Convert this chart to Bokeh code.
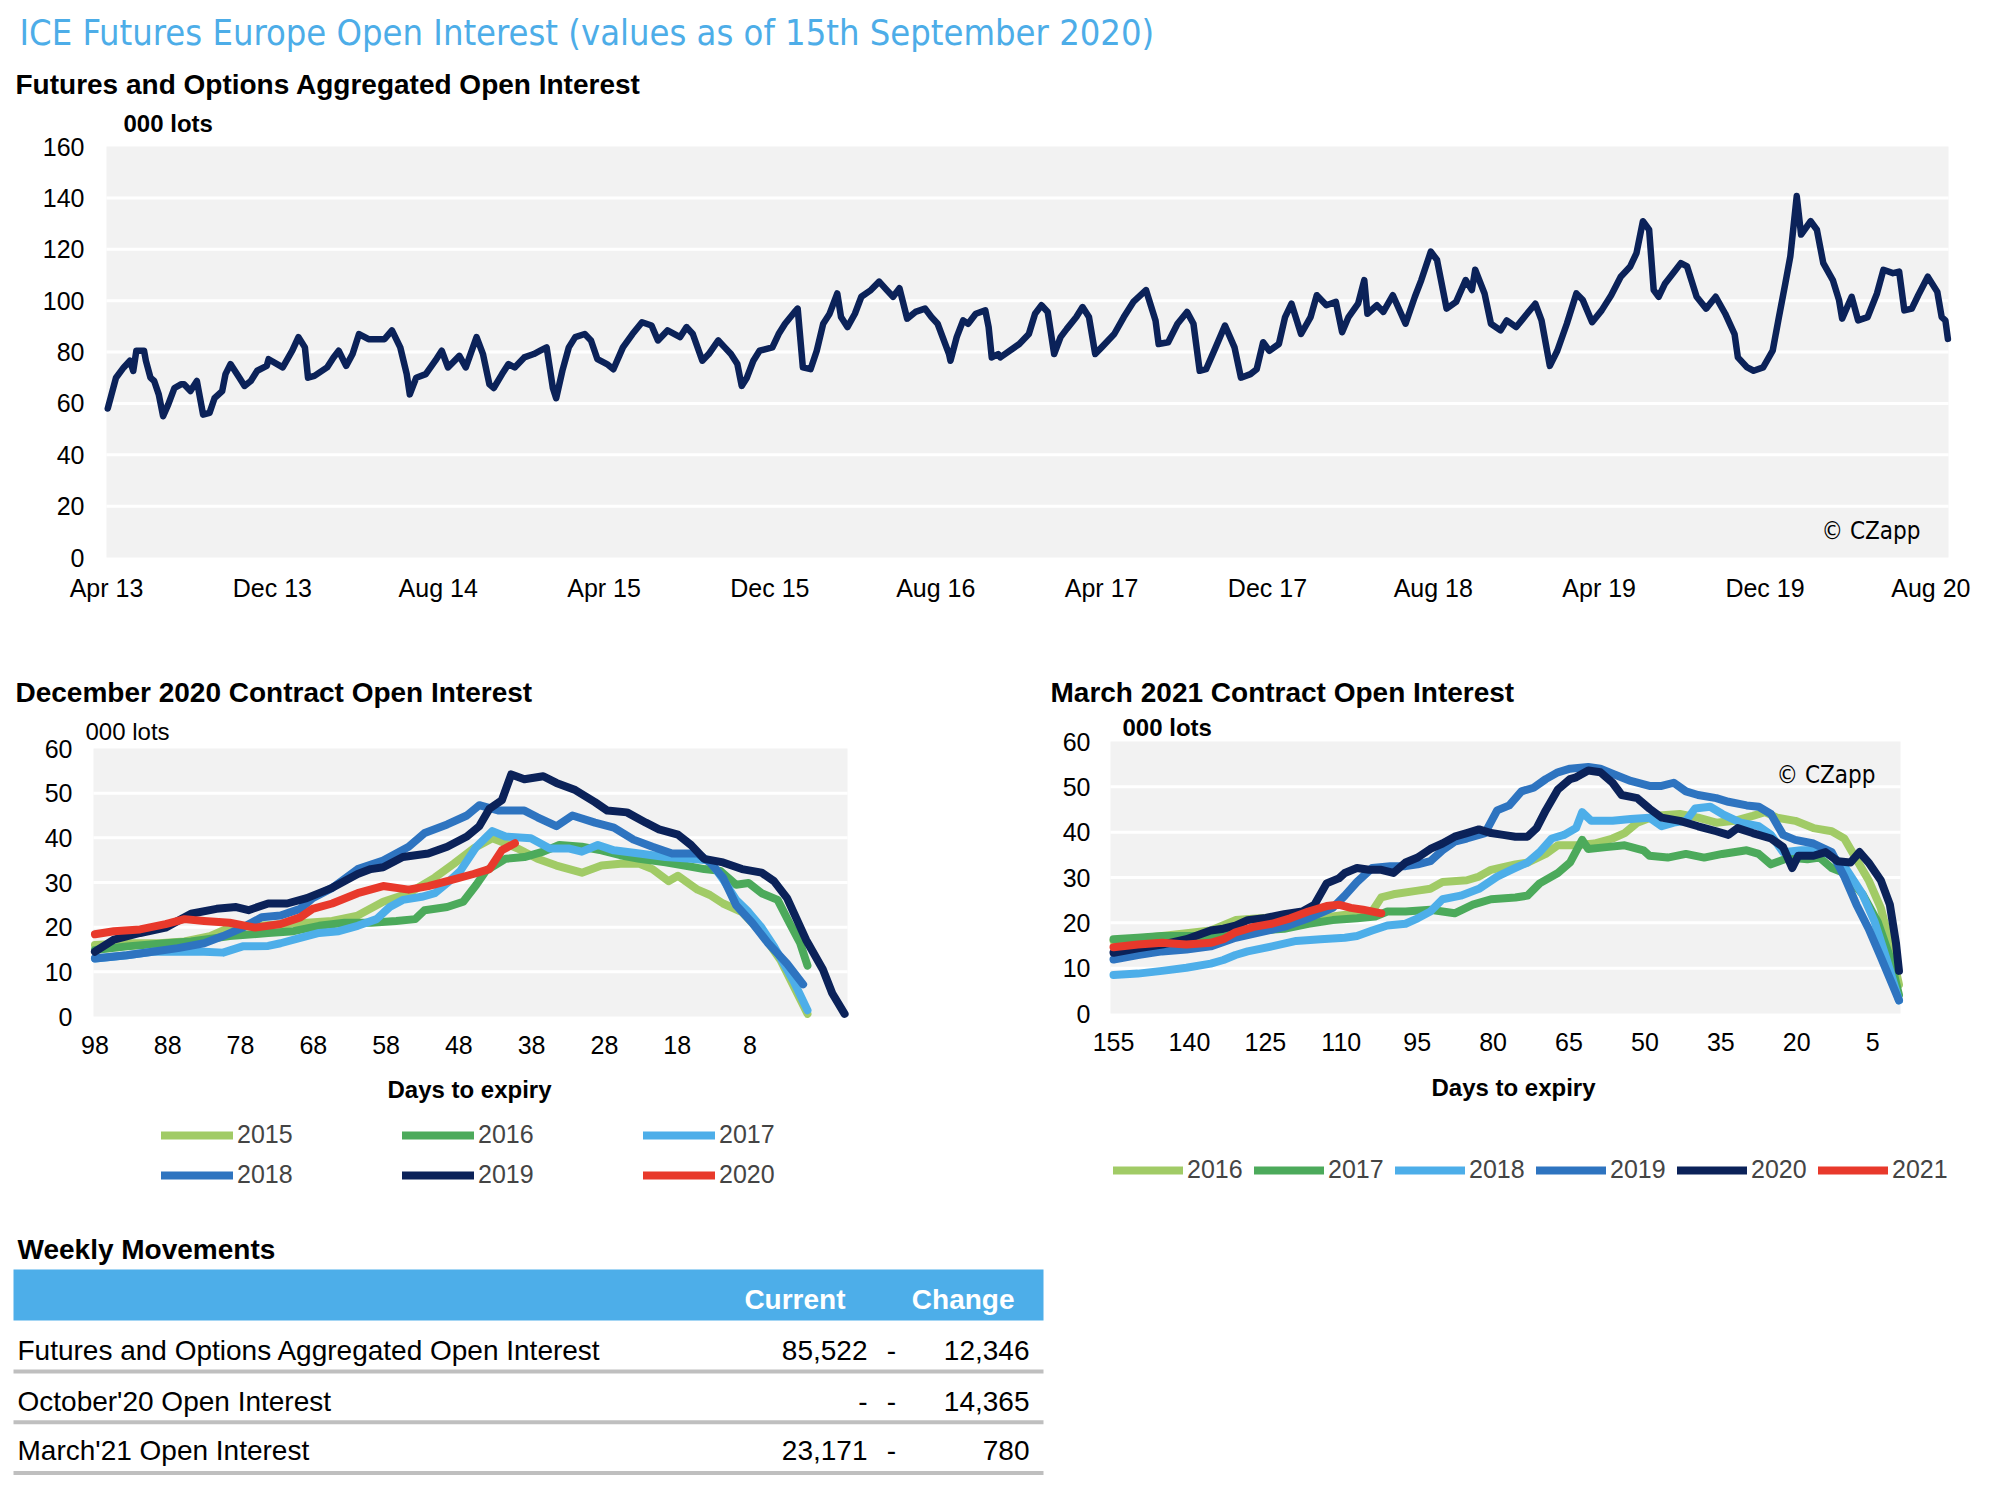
from bokeh.plotting import figure
from bokeh.models import Range1d, FixedTicker, Label, Legend, LegendItem, ColumnDataSource, LinearAxis
from bokeh.layouts import column, row
from bokeh.embed import file_html
from bokeh.resources import INLINE
from bokeh.core.properties import value

# ------------------------------------------------------------------ data
# Aggregated open interest: months after 1 April 2013, value in 000 lots
agg_month = [0.06, 0.46, 0.83, 1.13, 1.29, 1.44, 1.81, 1.90, 2.12, 2.30, 2.52, 2.73, 2.98, 3.28, 3.59, 3.74,
             4.05, 4.36, 4.66, 4.97, 5.21, 5.58, 5.74, 5.98, 6.41, 6.66, 6.96, 7.27, 7.73, 7.82, 8.50, 8.96,
             9.26, 9.57, 9.72, 10.03, 10.64, 10.95, 11.20, 11.56, 11.87, 12.18, 12.64, 13.41, 13.77, 14.17,
             14.48, 14.63, 14.94, 15.40, 15.86, 16.17, 16.47, 17.02, 17.33, 17.85, 18.16, 18.47, 18.68, 19.08,
             19.39, 19.69, 20.15, 20.61, 20.92, 21.23, 21.53, 21.69, 21.99, 22.30, 22.61, 23.07, 23.37, 23.68,
             24.14, 24.45, 24.91, 25.37, 25.83, 26.29, 26.60, 27.06, 27.67, 27.98, 28.28, 28.74, 29.05, 29.51,
             29.82, 30.12, 30.43, 30.64, 30.89, 31.20, 31.50, 32.12, 32.42, 32.73, 33.19, 33.34, 33.59, 33.96,
             34.26, 34.57, 34.88, 35.25, 35.43, 35.74, 36.10, 36.41, 36.87, 37.27, 37.64, 37.94, 38.25, 38.62,
             39.02, 39.48, 39.79, 40.09, 40.64, 40.71, 41.01, 41.32, 41.56, 41.93, 42.39, 42.55, 42.70, 43.01,
             43.11, 44.03, 44.49, 44.79, 45.10, 45.40, 45.71, 46.02, 46.32, 46.78, 47.08, 47.39, 47.69, 48.00,
             48.61, 49.07, 49.53, 50.14, 50.60, 50.75, 51.21, 51.66, 52.12, 52.43, 52.73, 53.04, 53.50, 53.95,
             54.41, 54.72, 55.18, 55.48, 55.79, 56.09, 56.55, 56.85, 57.16, 57.62, 58.08, 58.38, 58.84, 59.30,
             59.60, 59.91, 60.37, 60.67, 60.82, 61.28, 61.59, 62.05, 62.66, 63.11, 63.42, 63.88, 64.18, 64.64,
             65.10, 65.56, 65.86, 66.02, 66.47, 66.78, 67.24, 67.54, 68.00, 68.46, 68.92, 69.22, 69.62, 69.98,
             70.44, 70.90, 71.21, 71.66, 72.12, 72.58, 73.04, 73.50, 73.80, 74.11, 74.41, 74.63, 74.87, 75.18,
             75.63, 75.94, 76.24, 76.70, 77.16, 77.62, 78.08, 78.53, 78.69, 79.14, 79.45, 79.91, 80.37, 80.67,
             80.98, 81.22, 81.53, 81.74, 82.20, 82.50, 82.81, 83.27, 83.57, 83.72, 84.18, 84.49, 84.95, 85.40,
             85.71, 86.17, 86.47, 86.72, 87.08, 87.39, 87.85, 88.31, 88.52, 88.70, 88.82]
agg_oi = [58.0, 70.0, 74.0, 76.6, 72.6, 80.5, 80.5, 76.6, 70.0, 68.7, 63.5, 55.0, 59.6, 66.0, 67.4, 67.4,
          64.8, 68.7, 55.6, 56.3, 62.0, 64.8, 71.4, 75.3, 70.0, 66.8, 68.7, 72.7, 74.6, 77.2, 74.0, 80.5,
          85.8, 81.8, 70.0, 70.7, 74.0, 77.9, 80.5, 74.6, 79.2, 87.0, 85.0, 85.0, 88.4, 81.8,
          71.4, 63.5, 70.0, 71.4, 76.6, 80.5, 74.0, 78.5, 74.0, 85.8, 79.2, 67.4, 66.0, 71.4,
          75.3, 74.0, 77.9, 79.2, 80.5, 81.8, 66.0, 62.0, 72.7, 81.8, 85.8, 87.0, 84.5, 77.2,
          75.3, 73.3, 81.8, 87.0, 91.6, 90.3, 84.5, 88.4, 85.8, 89.7, 87.0, 76.6, 79.2, 84.5,
          81.8, 79.2, 75.3, 66.8, 70.0, 76.6, 80.5, 81.8, 87.0, 91.0, 95.6, 96.9, 74.0, 73.3,
          80.5, 91.0, 94.9, 102.8, 93.6, 89.7, 94.9, 101.5, 104.1, 107.4, 104.1, 101.5, 104.8, 93.0,
          95.6, 96.9, 93.6, 91.0, 79.2, 76.6, 85.8, 92.3, 91.0, 94.9, 96.2, 89.7, 77.9, 79.2,
          77.9, 83.1, 87.0, 94.9, 98.2, 95.6, 79.2, 85.8, 89.0, 93.6, 97.5, 93.6, 79.2, 81.8,
          87.0, 93.6, 99.5, 104.1, 92.3, 83.1, 83.8, 91.0, 95.6, 91.0, 72.7, 73.3, 81.8, 90.3,
          81.8, 70.0, 71.4, 73.3, 83.8, 80.5, 83.1, 93.6, 98.8, 87.0, 93.6, 102.1, 98.2, 99.5,
          87.7, 93.6, 98.8, 108.0, 94.9, 98.2, 95.6, 102.1, 91.0, 101.5, 108.0, 119.1, 115.8, 96.9,
          99.5, 108.0, 104.1, 112.0, 102.8, 91.0, 88.4, 92.3, 89.7, 94.3, 98.8, 92.3, 74.6, 80.5,
          91.0, 102.8, 100.2, 91.6, 96.2, 102.1, 109.3, 113.3, 118.5, 130.9, 127.6, 104.1, 101.5, 106.7,
          111.3, 114.6, 113.3, 101.5, 96.9, 101.5, 94.9, 87.0, 77.9, 74.0, 72.7, 74.0, 80.5, 93.6,
          106.7, 117.2, 140.7, 125.7, 130.9, 127.6, 114.6, 108.0, 100.2, 93.0, 101.5, 92.3, 93.6, 102.8,
          112.0, 110.7, 111.3, 96.2, 96.9, 102.1, 109.3, 103.4, 93.6, 92.3, 85.1]
agg_tick_months = [0, 8, 16, 24, 32, 40, 48, 56, 64, 72, 80, 88]
agg_tick_labels = ["Apr 13", "Dec 13", "Aug 14", "Apr 15", "Dec 15", "Aug 16",
                   "Apr 17", "Dec 17", "Aug 18", "Apr 19", "Dec 19", "Aug 20"]

# December contract: days to expiry, open interest (000 lots)
dec_days_2015 = [98, 93.6, 89.2, 85.7, 82.2, 79.5, 68.9, 65.4, 61.9, 58.4, 54.9, 51.3, 48.7, 46.0, 43.4, 41.6,
                 39.9, 37.2, 34.6, 31.1, 28.4, 25.8, 23.2, 21.4, 19.2, 17.9, 15.2, 13.5, 11.7, 9.1, 6.4, 3.8, 0.1]
dec_oi_2015 = [16.0, 16.4, 16.4, 16.8, 18.0, 19.9, 21.0, 21.4, 22.6, 25.7, 27.6, 31.1, 34.2, 37.6, 39.9, 38.8,
               37.6, 35.3, 33.8, 32.2, 33.8, 34.2, 34.2, 33.0, 30.3, 31.5, 28.4, 27.2, 25.3, 23.4, 18.7, 12.6, 0.6]
dec_days_2016 = [98, 93.6, 88.3, 84.8, 79.5, 74.2, 70.7, 67.2, 63.7, 60.1, 56.6, 54.0, 52.7, 49.6, 47.4, 45.6,
                 44.3, 41.6, 39.0, 36.4, 34.2, 31.1, 28.4, 25.8, 23.2, 19.6, 17.0, 14.3, 12.1, 9.9, 8.2, 6.4,
                 4.2, 2.5, 1.1, 0.1]
dec_oi_2016 = [14.9, 15.7, 16.4, 16.8, 18.0, 18.7, 19.1, 20.3, 21.0, 21.0, 21.4, 21.8, 23.8, 24.5, 25.7, 29.5,
               32.6, 35.3, 35.7, 36.9, 38.4, 38.0, 37.2, 36.1, 35.3, 34.5, 33.8, 33.0, 32.6, 29.5, 29.9, 27.6,
               26.1, 20.7, 16.4, 11.4]
dec_days_2017 = [98, 93.6, 90.1, 86.6, 83.0, 80.4, 77.7, 74.2, 72.5, 69.8, 67.2, 64.5, 61.9, 59.3, 57.5, 55.7,
                 53.1, 51.3, 49.6, 47.8, 45.6, 43.4, 41.6, 38.1, 35.5, 32.8, 31.1, 28.9, 26.7, 23.2, 19.6, 16.1,
                 13.5, 11.7, 9.9, 8.2, 6.4, 4.7, 2.0, 0.1]
dec_oi_2017 = [13.0, 13.7, 14.5, 14.5, 14.5, 14.3, 15.7, 15.8, 16.4, 17.6, 18.7, 19.1, 20.3, 21.8, 24.5, 26.1,
               26.8, 27.6, 29.9, 32.6, 38.0, 41.5, 40.3, 39.9, 37.6, 37.6, 36.9, 38.4, 37.2, 36.5, 35.7, 35.3,
               34.9, 30.7, 26.1, 23.4, 19.9, 15.7, 7.9, 1.4]
dec_days_2018 = [98, 93.6, 90.1, 86.6, 83.0, 80.4, 77.7, 75.1, 72.5, 69.8, 68.1, 65.4, 61.9, 58.4, 54.9, 52.7,
                 49.6, 46.9, 45.2, 42.5, 39.0, 37.2, 34.6, 32.4, 29.3, 26.7, 24.0, 21.4, 18.7, 15.2, 13.5, 11.7,
                 9.9, 7.7, 5.5, 2.9, 0.7]
dec_oi_2018 = [13.0, 13.7, 14.5, 15.3, 16.4, 18.0, 19.9, 22.2, 22.6, 24.1, 26.5, 28.8, 33.0, 34.9, 38.0, 41.1,
               43.0, 45.0, 47.3, 46.1, 46.1, 44.6, 42.6, 45.0, 43.4, 42.3, 39.6, 38.0, 36.5, 36.5, 34.5, 31.1,
               24.9, 21.0, 16.4, 11.8, 7.2]
dec_days_2019 = [98, 95.4, 91.8, 88.3, 84.8, 81.3, 78.6, 76.9, 74.2, 71.6, 68.9, 65.4, 61.9, 60.1, 58.4, 55.7,
                 52.2, 49.6, 46.9, 45.2, 43.8, 42.1, 40.8, 39.0, 36.4, 34.6, 32.0, 29.3, 27.6, 24.9, 22.3, 20.5,
                 17.9, 16.1, 14.3, 11.7, 9.1, 6.4, 4.7, 2.9, 0.3, -2.0, -3.3, -5.0]
dec_oi_2019 = [14.5, 17.2, 18.7, 19.9, 23.0, 24.1, 24.5, 23.8, 25.3, 25.3, 26.5, 28.8, 31.9, 33.0, 33.4, 35.7,
               36.5, 38.0, 40.3, 42.6, 46.5, 48.4, 54.2, 53.1, 53.8, 52.3, 50.7, 48.0, 46.1, 45.7, 43.4, 41.9,
               40.7, 38.4, 35.3, 34.5, 33.0, 32.2, 30.3, 26.5, 17.2, 10.6, 5.2, 0.6]
dec_days_2020 = [98, 95.4, 91.8, 88.3, 85.7, 83.0, 79.5, 76.0, 72.5, 69.8, 68.1, 65.4, 61.9, 58.4, 54.9, 52.2,
                 49.6, 46.0, 43.8, 42.1, 40.3]
dec_oi_2020 = [18.4, 19.1, 19.5, 20.7, 21.8, 21.4, 21.0, 19.9, 20.7, 22.2, 24.1, 25.3, 27.6, 29.2, 28.4, 29.2,
               30.3, 31.9, 33.0, 37.2, 38.8]
dec_ticks = [98, 88, 78, 68, 58, 48, 38, 28, 18, 8]

# March contract: days to expiry, open interest (000 lots)
mar_days_2016 = [155, 150.2, 145.4, 140.6, 135.8, 130.9, 126.1, 121.3, 116.5, 111.7, 106.9, 103.9, 102.1, 99.7,
                 94.9, 92.4, 90.0, 85.2, 82.8, 80.4, 75.6, 73.2, 69.6, 67.2, 63.6, 60.0, 56.4, 54.0, 51.5, 47.9,
                 43.1, 39.5, 35.9, 32.3, 28.7, 26.3, 23.9, 20.3, 16.7, 13.1, 10.6, 8.2, 5.8, 3.4, 1.6, -0.2]
mar_oi_2016 = [16.0, 16.5, 17.1, 17.7, 18.3, 20.6, 21.0, 21.4, 21.7, 21.4, 22.1, 22.5, 25.6, 26.3,
               27.1, 27.5, 29.0, 29.4, 30.2, 31.7, 32.9, 33.3, 35.2, 37.1, 37.1, 37.5, 38.6, 39.8, 42.1, 43.6,
               44.0, 43.2, 42.1, 42.5, 43.6, 44.4, 43.2, 42.5, 40.9, 40.2, 38.6, 34.0, 29.4, 23.3, 15.6, 6.4]
mar_days_2017 = [155, 150.2, 145.4, 140.6, 135.8, 130.9, 126.1, 121.3, 116.5, 111.7, 106.9, 103.3, 100.9, 97.3,
                 92.4, 87.6, 84.0, 80.4, 75.6, 73.2, 70.8, 67.2, 64.8, 62.4, 61.2, 57.6, 54.0, 50.3, 49.1, 45.5,
                 41.9, 38.3, 34.7, 29.9, 27.5, 25.1, 21.5, 17.9, 15.5, 13.1, 10.6, 7.0, 4.0, 1.6, -0.2]
mar_oi_2017 = [16.4, 16.7, 17.1, 17.1, 17.1, 17.5, 18.3, 18.7, 19.8, 20.6, 21.0, 21.4, 22.5, 22.5,
               22.9, 22.1, 24.0, 25.2, 25.6, 26.0, 28.7, 31.0, 33.3, 38.3, 36.3, 36.7, 37.1, 36.0, 34.8, 34.4,
               35.2, 34.4, 35.2, 36.0, 35.2, 32.9, 34.4, 34.0, 34.4, 32.1, 31.0, 26.3, 20.2, 12.5, 4.1]
mar_days_2018 = [155, 150.2, 145.4, 140.6, 135.8, 133.3, 130.9, 128.5, 123.7, 118.9, 114.1, 109.3, 106.9, 103.9,
                 100.9, 97.3, 94.9, 92.4, 90.0, 86.4, 82.8, 79.2, 75.6, 73.2, 70.8, 68.4, 66.0, 63.6, 62.4, 60.6,
                 56.4, 52.8, 49.1, 46.7, 44.3, 41.9, 40.1, 37.1, 34.7, 31.1, 27.5, 25.1, 22.7, 19.1, 15.5, 13.1,
                 10.6, 7.0, 4.6, 2.2, -0.2]
mar_oi_2018 = [8.5, 8.8, 9.4, 10.1, 11.0, 11.8, 12.9, 13.7, 14.8, 16.0, 16.4, 16.7, 17.1, 18.3,
               19.4, 19.8, 21.0, 22.5, 25.2, 26.0, 27.5, 30.2, 32.1, 33.3, 35.6, 38.6, 39.4, 40.9, 44.4, 42.5,
               42.5, 42.9, 43.2, 41.3, 42.1, 42.5, 45.2, 45.6, 44.0, 42.1, 41.3, 39.4, 35.6, 36.0, 36.0, 34.8,
               32.5, 26.3, 20.2, 11.8, 2.9]
mar_days_2019 = [155, 150.2, 145.4, 140.6, 135.8, 130.9, 126.1, 121.3, 116.5, 111.7, 109.3, 106.9, 103.9, 100.3,
                 97.3, 94.9, 92.4, 90.0, 87.6, 85.2, 81.6, 79.2, 76.8, 74.4, 72.0, 69.6, 67.2, 64.8, 61.2, 58.8,
                 56.4, 52.8, 49.1, 46.7, 44.3, 41.9, 39.5, 35.9, 33.5, 29.9, 27.5, 25.1, 22.7, 20.3, 16.7, 13.1,
                 10.6, 8.2, 5.8, 3.4, -0.2]
mar_oi_2019 = [11.9, 12.9, 13.7, 14.1, 14.8, 16.7, 17.9, 19.1, 21.0, 23.3, 26.0, 29.0, 32.1, 32.5,
               32.5, 32.9, 33.6, 36.0, 37.9, 38.6, 39.8, 44.8, 45.9, 49.0, 49.8, 51.7, 53.2, 54.0, 54.4, 54.0,
               52.9, 51.3, 50.2, 50.2, 50.9, 49.0, 48.2, 47.5, 46.7, 45.9, 45.6, 44.0, 39.4, 38.3, 37.5, 35.6,
               30.2, 24.0, 18.7, 12.5, 2.9]
mar_days_2020 = [155, 150.2, 145.4, 140.6, 135.8, 133.3, 130.9, 128.5, 124.9, 121.3, 117.7, 115.3, 112.9, 110.5,
                 109.3, 106.9, 104.5, 102.1, 99.7, 97.3, 94.9, 92.4, 90.0, 87.6, 85.2, 82.8, 80.4, 78.0, 75.6,
                 73.2, 71.4, 69.6, 67.2, 64.8, 63.6, 61.2, 58.8, 56.4, 54.6, 51.5, 49.1, 46.7, 43.1, 39.5, 35.9,
                 33.5, 31.7, 28.7, 25.1, 22.7, 20.9, 19.7, 16.7, 14.3, 11.9, 9.4, 7.6, 5.8, 3.4, 1.6, 0.4, -0.2]
mar_oi_2020 = [13.4, 14.4, 15.2, 16.4, 18.3, 18.7, 19.4, 20.6, 21.1, 21.9, 22.5, 24.0, 28.7, 29.8,
               31.0, 32.1, 31.7, 31.7, 31.0, 33.3, 34.4, 36.3, 37.5, 39.0, 39.8, 40.6, 39.8, 39.4, 39.0,
               39.0, 40.9, 44.8, 49.4, 51.7, 52.1, 53.6, 53.2, 50.9, 48.2, 47.5, 45.2, 43.2, 42.5, 41.3, 40.2,
               39.4, 40.9, 39.8, 38.6, 36.7, 32.1, 34.8, 34.8, 35.6, 33.6, 33.3, 35.6, 33.3, 29.4, 24.0, 15.6, 9.4]
mar_days_2021 = [155, 150.2, 145.4, 140.6, 135.8, 133.3, 130.9, 127.3, 123.7, 120.1, 116.5, 112.9, 110.5, 108.1,
                 105.7, 102.1]
mar_oi_2021 = [14.6, 15.2, 15.6, 15.2, 15.6, 16.4, 17.9, 19.1, 19.8, 21.0, 22.5, 23.7, 24.0, 23.3,
               22.9, 22.1]
mar_ticks = [155, 140, 125, 110, 95, 80, 65, 50, 35, 20, 5]

# Weekly movements table
table_rows = ["Futures and Options Aggregated Open Interest", "October'20 Open Interest", "March'21 Open Interest"]
table_current = ["85,522", "-", "23,171"]
table_sign = ["-", "-", "-"]
table_change = ["12,346", "14,365", "780"]

# ------------------------------------------------------------------ style
FONT = "Liberation Sans"
NARROW = "DejaVu Sans Condensed, Roboto Condensed, Liberation Sans Narrow, Roboto, sans-serif"
TITLE_BLUE = "#4DADE8"
NAVY = "#0B2259"
C_LGREEN = "#A1CB66"
C_GREEN = "#4CAA5B"
C_LBLUE = "#4DAEE9"
C_BLUE = "#2E74C0"
C_RED = "#E8392B"
BG = "#F2F2F2"


def chart(width, height, box, xspan, yspan, xticks, yticks, xstand, ystand):
    """box = (left, right, top, bottom) pixel edges of the plot area inside the figure."""
    left, right, top, bottom = box
    x0, x1 = xspan
    y0, y1 = yspan
    sx = (x1 - x0) / (right - left)
    sy = (y1 - y0) / (bottom - top)
    p = figure(width=width, height=height,
               x_range=Range1d(x0 - left * sx, x1 + (width - right) * sx),
               y_range=Range1d(y0 - (height - bottom) * sy, y1 + top * sy),
               output_backend="svg", toolbar_location=None, x_axis_type=None, y_axis_type=None,
               min_border=0, border_fill_color="white", background_fill_color="white")
    p.outline_line_color = None
    p.grid.visible = False
    p.quad(left=x0, right=x1, bottom=y0, top=y1, fill_color=BG, line_color=None)
    inner = [t for t in yticks if y0 < t < y1]
    p.segment(x0=[x0] * len(inner), x1=[x1] * len(inner), y0=inner, y1=inner,
              line_color="white", line_width=3)
    xa = LinearAxis(fixed_location=y0, ticker=FixedTicker(ticks=xticks))
    ya = LinearAxis(fixed_location=x0, ticker=FixedTicker(ticks=yticks))
    for ax, st in ((xa, xstand), (ya, ystand)):
        ax.axis_line_color = None
        ax.major_tick_line_color = None
        ax.minor_tick_line_color = None
        ax.major_tick_out = 0
        ax.major_tick_in = 0
        ax.major_label_text_font = FONT
        ax.major_label_text_font_size = "25px"
        ax.major_label_text_color = "#000000"
        ax.major_label_standoff = st
    p.add_layout(xa, "below")
    p.add_layout(ya, "left")
    return p, xa


def label(p, x, y, text, size, bold=False, font=FONT, color="#000000", align="left"):
    p.add_layout(Label(x=x, y=y, x_units="screen", y_units="screen", text=text,
                       text_font=font, text_font_size=size,
                       text_font_style="bold" if bold else "normal",
                       text_color=color, text_align=align, text_baseline="alphabetic"))


# ------------------------------------------------------------------ top chart
p1, xa1 = chart(1994, 630, (106, 1948, 146, 557), (0, 88.85), (0, 160),
                agg_tick_months, list(range(0, 161, 20)), 16, 22)
xa1.major_label_overrides = {m: l for m, l in zip(agg_tick_months, agg_tick_labels)}
p1.line(agg_month, agg_oi, line_color=NAVY, line_width=6.5, line_join="round", line_cap="round")
label(p1, 19, 598, "ICE Futures Europe Open Interest (values as of 15th September 2020)", "36px",
      font=NARROW, color=TITLE_BLUE)
label(p1, 15, 546, "Futures and Options Aggregated Open Interest", "28px", bold=True)
label(p1, 123, 507, "000 lots", "24px", bold=True)
label(p1, 1920, 100, "© CZapp", "24px", font=NARROW, align="right")

# ------------------------------------------------------------------ December chart
p2, _ = chart(1040, 585, (93, 847, 118, 386), (98.2, -5.4), (0, 60),
              dec_ticks, list(range(0, 61, 10)), 19, 21)
dec_series = [("2015", dec_days_2015, dec_oi_2015, C_LGREEN),
              ("2016", dec_days_2016, dec_oi_2016, C_GREEN),
              ("2017", dec_days_2017, dec_oi_2017, C_LBLUE),
              ("2018", dec_days_2018, dec_oi_2018, C_BLUE),
              ("2019", dec_days_2019, dec_oi_2019, NAVY),
              ("2020", dec_days_2020, dec_oi_2020, C_RED)]
dec_items = []
for name, xs, ys, col in dec_series:
    r = p2.line(xs, ys, line_color=col, line_width=8, line_join="round", line_cap="round")
    dec_items.append(LegendItem(label=name, renderers=[r]))
leg2 = Legend(items=dec_items, location=(161, 26), orientation="horizontal", ncols=3,
              border_line_color=None, background_fill_alpha=0, padding=0, margin=0,
              glyph_width=72, glyph_height=28, label_height=28, label_width=154, label_standoff=4,
              spacing=11, label_text_font=FONT, label_text_font_size="25px")
p2.add_layout(leg2)
label(p2, 15, 522.6, "December 2020 Contract Open Interest", "28px", bold=True)
label(p2, 85, 484.3, "000 lots", "24px")
label(p2, 469, 125.7, "Days to expiry", "24px", bold=True, align="center")

# ------------------------------------------------------------------ March chart
p3, _ = chart(954, 585, (70, 860, 111, 383), (155.6, -0.5), (0, 60),
              mar_ticks, list(range(0, 61, 10)), 19, 20)
mar_series = [("2016", mar_days_2016, mar_oi_2016, C_LGREEN),
              ("2017", mar_days_2017, mar_oi_2017, C_GREEN),
              ("2018", mar_days_2018, mar_oi_2018, C_LBLUE),
              ("2019", mar_days_2019, mar_oi_2019, C_BLUE),
              ("2020", mar_days_2020, mar_oi_2020, NAVY),
              ("2021", mar_days_2021, mar_oi_2021, C_RED)]
mar_items = []
for name, xs, ys, col in mar_series:
    r = p3.line(xs, ys, line_color=col, line_width=8, line_join="round", line_cap="round")
    mar_items.append(LegendItem(label=name, renderers=[r]))
leg3 = Legend(items=mar_items, location=(73, 31), orientation="horizontal",
              border_line_color=None, background_fill_alpha=0, padding=0, margin=0,
              glyph_width=70, glyph_height=28, label_height=28, label_width=56, label_standoff=4,
              spacing=11, label_text_font=FONT, label_text_font_size="25px")
p3.add_layout(leg3)
label(p3, 10, 522.6, "March 2021 Contract Open Interest", "28px", bold=True)
label(p3, 82, 488, "000 lots", "24px", bold=True)
label(p3, 835, 441, "© CZapp", "24px", font=NARROW, align="right")
label(p3, 473, 128.2, "Days to expiry", "24px", bold=True, align="center")

# ------------------------------------------------------------------ table
pt = figure(width=1994, height=285, x_range=Range1d(0, 1994), y_range=Range1d(285, 0),
            output_backend="svg", toolbar_location=None, x_axis_type=None, y_axis_type=None,
            min_border=0, border_fill_color="white", background_fill_color="white")
pt.outline_line_color = None
pt.grid.visible = False
row_y = [134.9, 185.8, 235.4]
sep_y = [156, 206.8, 257.6]
src = ColumnDataSource(dict(label=table_rows, cur=table_current, sign=table_sign, chg=table_change, y=row_y))
pt.quad(left=13, right=1043, top=54, bottom=105, fill_color=C_LBLUE, line_color=None)
pt.segment(x0=13, x1=1043, y0=sep_y, y1=sep_y, line_color="#BFBFBF", line_width=4)
pt.text(x=17, y=34.4, text=["Weekly Movements"], text_font=value(FONT), text_font_size=value("28px"),
        text_font_style="bold", text_baseline="alphabetic", text_color="#000000")
pt.text(x=[845, 1014], y=[84, 84], text=["Current", "Change"], text_font=value(FONT),
        text_font_size=value("28px"), text_font_style="bold", text_baseline="alphabetic",
        text_align="right", text_color="white")
pt.text(x=17, y="y", text="label", source=src, text_font=value(FONT), text_font_size=value("28px"),
        text_baseline="alphabetic", text_color="#000000")
pt.text(x=867, y="y", text="cur", source=src, text_font=value(FONT), text_font_size=value("28px"),
        text_baseline="alphabetic", text_align="right", text_color="#000000")
pt.text(x=891, y="y", text="sign", source=src, text_font=value(FONT), text_font_size=value("28px"),
        text_baseline="alphabetic", text_align="center", text_color="#000000")
pt.text(x=1029, y="y", text="chg", source=src, text_font=value(FONT), text_font_size=value("28px"),
        text_baseline="alphabetic", text_align="right", text_color="#000000")

layout = column(p1, row(p2, p3), pt)
open("out.html", "w").write(file_html(layout, INLINE))
